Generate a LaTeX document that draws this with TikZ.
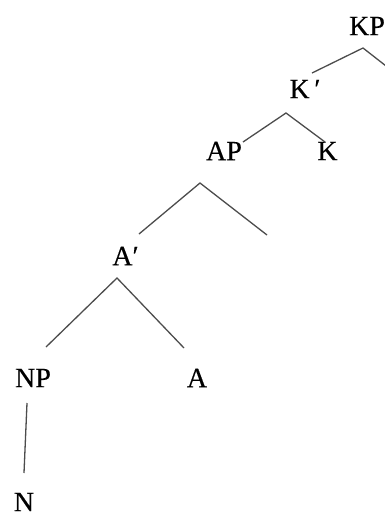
\documentclass[tikz,border=0pt]{standalone}
\usepackage{fontspec}
\setmainfont{Liberation Serif}[FakeBold=0.4]
\usepackage{tikz}
\usetikzlibrary{positioning}
\tikzset{
  cat/.style={inner sep=0pt, font=\rmfamily\fontsize{28}{30}\selectfont},
  branch/.style={draw=black!70, line width=1.3pt},
}

\begin{document}
\begin{tikzpicture}[x=1pt, y=-1pt]
    \clip (0,0) rectangle (385,515);

    % labels
    \node[cat] (kp) at (367,26) {KP};
    \node[cat] (kbar) at (305,89) {K\,′};
    \node[cat] (k) at (327.5,151) {K};
    \node[cat] (ap) at (224,151) {AP};
    \node[cat] (abar) at (125.5,256) {A′};
    \node[cat] (np) at (33,378) {NP};
    \node[cat] (a) at (197,378) {A};
    \node[cat] (n) at (24,502) {N};

    % forks under each phrase
    \coordinate (kp-fork) at (363,48);
    \coordinate (kp-l) at (312,73);
    \coordinate (kp-r) at (395,73);
    \coordinate (kbar-fork) at (286,113);
    \coordinate (kbar-l) at (243,142);
    \coordinate (kbar-r) at (325,142);
    \coordinate (ap-fork) at (200,183);
    \coordinate (ap-l) at (139,234);
    \coordinate (ap-r) at (267,235);
    \coordinate (abar-fork) at (117,278);
    \coordinate (abar-l) at (46,347);
    \coordinate (abar-r) at (184,348);
    \coordinate (np-top) at (27,403);
    \coordinate (np-bot) at (24,473);

    \draw[branch] (kp-l) -- (kp-fork) -- (kp-r);
    \draw[branch] (kbar-l) -- (kbar-fork) -- (kbar-r);
    \draw[branch] (ap-l) -- (ap-fork) -- (ap-r);
    \draw[branch] (abar-l) -- (abar-fork) -- (abar-r);
    \draw[branch] (np-top) -- (np-bot);
\end{tikzpicture}
\end{document}
